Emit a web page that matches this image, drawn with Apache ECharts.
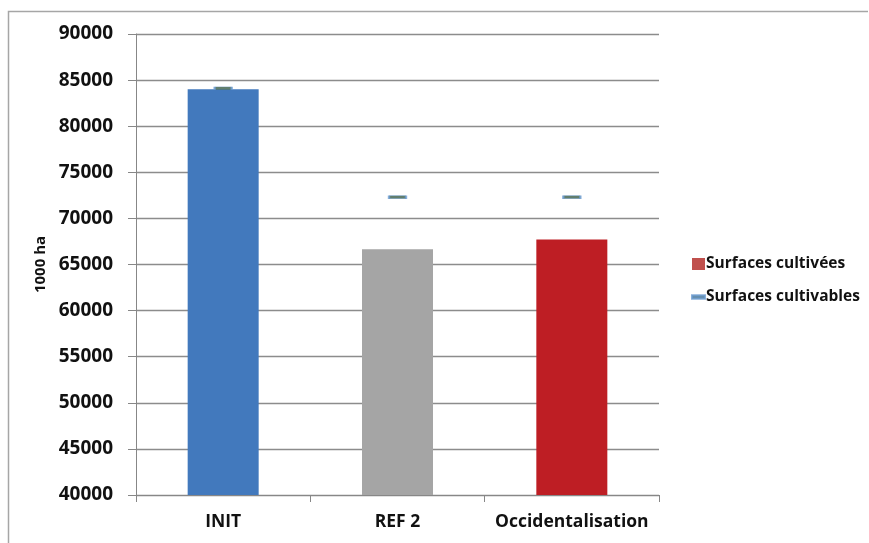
<!DOCTYPE html>
<html><head><meta charset="utf-8">
<script src="https://cdn.jsdelivr.net/npm/echarts@6/dist/echarts.min.js"></script>
<style>html,body{margin:0;padding:0;background:#fff}#c{width:869px;height:543px}</style>
</head><body><div id="c"></div>
<script>
var categories = ['INIT', 'REF 2', 'Occidentalisation'];
var cultivees = [84000, 66650, 67700];
var cultivables = [84100, 72300, 72300];
var barColors = ['#4279BD', '#A5A5A5', '#BE1E24'];
var yTicks = [40000, 90000, 5000];

var chart = echarts.init(document.getElementById('c'));
var font = '"Open Sans", sans-serif';
chart.setOption({
  animation: false,
  backgroundColor: '#fff',
  graphic: [{
    type: 'polyline', silent: true,
    shape: { points: [[8.5, 543], [8.5, 11.5], [868, 11.5]] },
    style: { stroke: '#A6A6A6', lineWidth: 1.5, fill: null }
  }],
  grid: { left: 136, top: 34, right: 210, bottom: 48 },
  legend: {
    orient: 'vertical', left: 686, top: 251, itemGap: 17,
    itemWidth: 13, itemHeight: 12, symbolKeepAspect: true,
    textStyle: { fontFamily: font, fontWeight: 'bold', fontSize: 15.5, color: '#111', padding: [0, 0, 0, -4] },
    data: [
      { name: 'Surfaces cultivées', icon: 'rect', itemStyle: { color: '#C0504D' } },
      { name: 'Surfaces cultivables', icon: 'path://M0,0h13v3.5h-13z', itemStyle: { color: '#3F6F92' } }
    ]
  },
  xAxis: {
    type: 'category', data: categories,
    axisLine: { lineStyle: { color: '#878787', width: 1 } },
    axisTick: { show: true, length: 7, lineStyle: { color: '#878787' } },
    axisLabel: { fontFamily: font, fontWeight: 'bold', fontSize: 17.5, color: '#111', margin: 18, interval: 0 }
  },
  yAxis: {
    type: 'value', min: yTicks[0], max: yTicks[1], interval: yTicks[2],
    name: '1000 ha', nameLocation: 'middle', nameGap: 83, nameRotate: 90,
    nameTextStyle: { fontFamily: font, fontWeight: 'bold', fontSize: 15, color: '#111' },
    axisLine: { show: true, lineStyle: { color: '#878787' } },
    axisTick: { show: true, length: 8, lineStyle: { color: '#878787' } },
    axisLabel: { fontFamily: font, fontWeight: 'bold', fontSize: 19, color: '#111', margin: 23,
      formatter: function (v) { return String(v); } },
    splitLine: { lineStyle: { color: '#8C8C8C', width: 1.3 } }
  },
  series: [{
    name: 'Surfaces cultivées', type: 'bar', barWidth: 71,
    data: cultivees.map(function (v, i) { return { value: v, itemStyle: { color: barColors[i] } }; }),
    itemStyle: { color: '#C0504D' }
  }, {
    name: 'Surfaces cultivables', type: 'scatter', symbol: 'rect', symbolSize: [17, 3],
    data: cultivables,
    itemStyle: { color: '#3A5E4A', borderColor: '#6A9BD1', borderWidth: 1 },
    z: 5
  }]
});
</script></body></html>
